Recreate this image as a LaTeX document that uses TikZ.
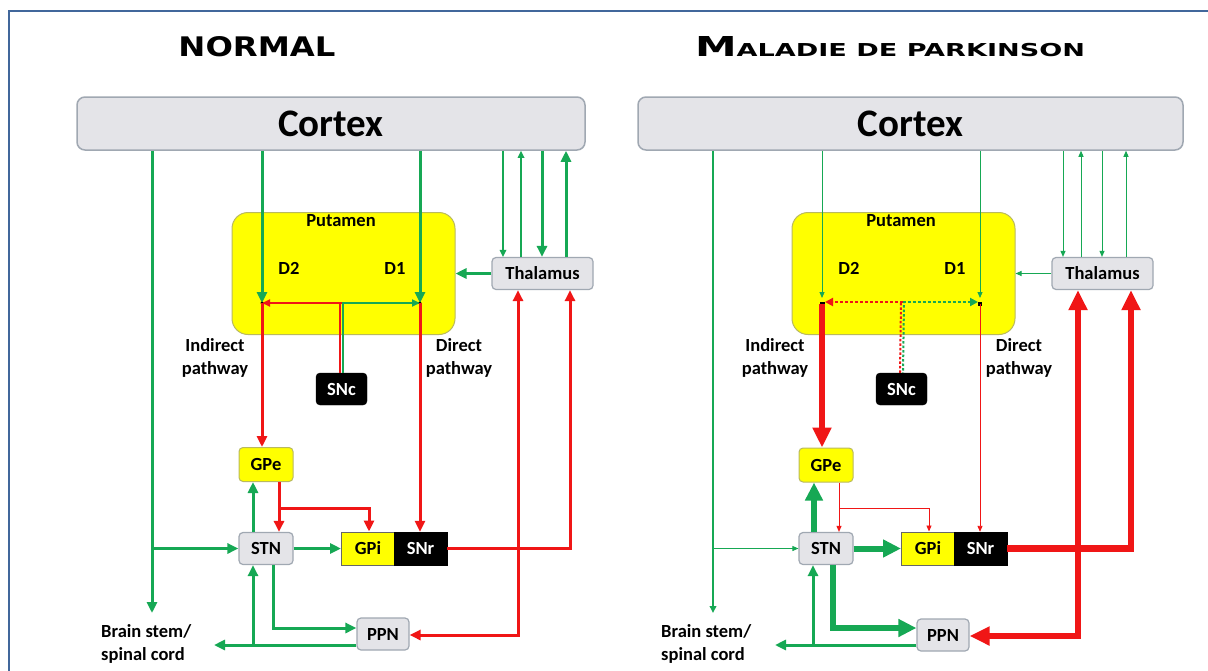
\documentclass[tikz,border=0pt]{standalone}
\usepackage{fontspec}
\usepackage{graphicx}
\setmainfont{Carlito}
\newfontfamily\ttlfont{DejaVu Sans}
\usetikzlibrary{arrows.meta}
\definecolor{grn}{RGB}{22,168,84}
\definecolor{rd}{RGB}{240,22,22}
\definecolor{ylw}{RGB}{255,255,0}
\definecolor{boxgray}{RGB}{228,228,232}
\definecolor{boxedge}{RGB}{160,168,178}
\definecolor{frm}{RGB}{65,103,155}
\definecolor{yedge}{RGB}{185,185,95}
\tikzset{
  lbl/.style={font=\fontsize{18.5}{23}\selectfont\bfseries, inner sep=0pt},
  graybox/.style={lbl, draw=boxedge, fill=boxgray, line width=1.2pt, rounded corners=4pt},
  ybox/.style={lbl, draw=yedge, fill=ylw, line width=1pt},
  blkbox/.style={lbl, draw=black, fill=black, text=white},
  cortexbox/.style={draw=boxedge, fill=boxgray, line width=1.5pt, rounded corners=8pt, minimum height=53pt, inner sep=0pt, font=\fontsize{39}{42}\selectfont\bfseries},
  putbox/.style={draw=yedge, fill=ylw, line width=1pt, rounded corners=16pt, minimum width=223pt, minimum height=122pt},
  gT/.style={draw=grn, line width=0.9pt, -{Triangle[length=6pt,width=5pt]}},
  gS/.style={draw=grn, line width=1.6pt, -{Triangle[length=7pt,width=6.5pt]}},
  gM/.style={draw=grn, line width=3pt, -{Triangle[length=11pt,width=10pt]}},
  gK/.style={draw=grn, line width=6pt, -{Triangle[length=18pt,width=17pt]}},
  rT/.style={draw=rd, line width=0.9pt, -{Triangle[length=6pt,width=5pt]}},
  rS/.style={draw=rd, line width=1.8pt, -{Triangle[length=8pt,width=7pt]}},
  rM/.style={draw=rd, line width=3pt, -{Triangle[length=11pt,width=10pt]}},
  rK/.style={draw=rd, line width=6.5pt, -{Triangle[length=20pt,width=18pt]}},
}
\begin{document}
\begin{tikzpicture}[x=1pt,y=-1pt]
\useasboundingbox (0,0) rectangle (1208,670);
\fill[white] (0,0) rectangle (1208,670);
\draw[frm, line width=2.5pt] (9,672) -- (9,11) -- (1210,11);

% titles
\node[anchor=base, inner sep=0pt] (t1) at (257,56) {\resizebox{157pt}{20pt}{\ttlfont\bfseries NORMAL}};
\node[anchor=base, inner sep=0pt] (t2) at (890,56) {\resizebox{390pt}{20pt}{\ttlfont\bfseries\fontsize{27}{30}\selectfont M\fontsize{17.5}{20}\selectfont ALADIE DE PARKINSON}};

% ================= LEFT PANEL =================
\node[cortexbox, minimum width=508pt] (Lcx) at (331,123.5) {Cortex};
\node[putbox] (Lput) at (343.5,273.5) {};
\node[lbl] (LputT) at (341,221) {Putamen};
\node[lbl] (Ld2) at (289,268) {D2};
\node[lbl] (Ld1) at (395,268) {D1};
\node[graybox, minimum width=101pt, minimum height=32pt] (Lthal) at (542.5,273.5) {Thalamus};
\node[blkbox, rounded corners=4pt, minimum width=51pt, minimum height=32pt] (Lsnc) at (341.5,389) {SNc};
\node[ybox, rounded corners=4pt, minimum width=54pt, minimum height=34pt] (Lgpe) at (266,464.5) {GPe};
\node[graybox, minimum width=54pt, minimum height=32pt] (Lstn) at (266,548.5) {STN};
\node[ybox, draw=black!60, minimum width=53pt, minimum height=33pt] (Lgpi) at (368,548.5) {GPi};
\node[blkbox, minimum width=53pt, minimum height=33pt] (Lsnr) at (420.5,548.5) {SNr};
\node[graybox, minimum width=52pt, minimum height=32pt] (Lppn) at (383,634) {PPN};
\node[lbl, align=center] (Lind) at (215,358) {Indirect\\pathway};
\node[lbl, align=center] (Ldir) at (459,358) {Direct\\pathway};
\node[lbl, align=left, anchor=west] (Lbs) at (101,644) {Brain stem/\\spinal cord};
\coordinate (Ld2p) at (262,303);
\coordinate (Ld1p) at (420,303);
\coordinate (Ljs) at (341.5,303);
\coordinate (LjA) at (152,548.5);
\coordinate (Lbsdown) at (152,613);
\coordinate (Ljg) at (279,508);
\coordinate (Ljr) at (518,548.5);
\coordinate (Lbsin) at (214,645);
\coordinate (Lju) at (253,645);

\draw[gM] (152,0 |- Lcx.south) -- (Lbsdown);
\draw[gM] (LjA) -- (Lstn.west);
\draw[gM] (262,0 |- Lcx.south) -- (Ld2p);
\draw[gM] (420,0 |- Lcx.south) -- (Ld1p);
\draw[gS] (503,0 |- Lcx.south) -- (503,0 |- Lthal.north);
\draw[gS] (521,0 |- Lthal.north) -- (521,0 |- Lcx.south);
\draw[gM] (542,0 |- Lcx.south) -- (542,0 |- Lthal.north);
\draw[gM] (566,0 |- Lthal.north) -- (566,0 |- Lcx.south);
\draw[gM] (Lthal.west) -- (Lput.east);
\draw[rd, line width=1.6pt] ([xshift=-1.5pt]Lsnc.north) -- ([xshift=-1.5pt]Ljs);
\draw[grn, line width=1.6pt] ([xshift=1.5pt]Lsnc.north) -- ([xshift=1.5pt]Ljs);
\draw[rS] (Ljs) -- (Ld2p);
\draw[gS, line width=1.8pt, -{Triangle[length=8pt,width=7pt]}] (Ljs) -- (Ld1p);
\fill (Ld2p) circle (1.6);
\fill (Ld1p) circle (1.6);
\draw[rM] (Ld2p) -- (262,0 |- Lgpe.north);
\draw[rM] (Ld1p) -- (420,0 |- Lsnr.north);
\draw[rM] (279,0 |- Lgpe.south) -- (279,0 |- Lstn.north);
\draw[rM] (Ljg) -| (369,0 |- Lgpi.north);
\draw[gM] (253,0 |- Lstn.north) -- (253,0 |- Lgpe.south);
\draw[gM] (Lstn.east) -- (Lgpi.west);
\draw[rM] (Lsnr.east) -| (570,0 |- Lthal.south);
\draw[rM] (Ljr) -- (518,0 |- Lthal.south);
\draw[rM] (Ljr) |- (Lppn.east |- 0,635);
\draw[gM] (273,0 |- Lstn.south) |- (Lppn.west |- 0,628);
\draw[gM] (Lppn.west |- Lbsin) -- (Lbsin);
\draw[gM] (Lju) -- (253,0 |- Lstn.south);

% ================= RIGHT PANEL =================
\begin{scope}[xshift=560pt]
\node[cortexbox, minimum width=545pt] (Rcx) at (350.5,123.5) {Cortex};
\node[putbox] (Rput) at (343.5,273.5) {};
\node[lbl] (RputT) at (341,221) {Putamen};
\node[lbl] (Rd2) at (289,268) {D2};
\node[lbl] (Rd1) at (395,268) {D1};
\node[graybox, minimum width=101pt, minimum height=32pt] (Rthal) at (542.5,273.5) {Thalamus};
\node[blkbox, rounded corners=4pt, minimum width=51pt, minimum height=32pt] (Rsnc) at (341.5,389) {SNc};
\node[ybox, rounded corners=4pt, minimum width=54pt, minimum height=34pt] (Rgpe) at (266,465) {GPe};
\node[graybox, minimum width=54pt, minimum height=32pt] (Rstn) at (266,548.5) {STN};
\node[ybox, draw=black!60, minimum width=53pt, minimum height=33pt] (Rgpi) at (368,548.5) {GPi};
\node[blkbox, minimum width=53pt, minimum height=33pt] (Rsnr) at (420.5,548.5) {SNr};
\node[graybox, minimum width=52pt, minimum height=32pt] (Rppn) at (383,635) {PPN};
\node[lbl, align=center] (Rind) at (215,358) {Indirect\\pathway};
\node[lbl, align=center] (Rdir) at (459,358) {Direct\\pathway};
\node[lbl, align=left, anchor=west] (Rbs) at (101,644) {Brain stem/\\spinal cord};
\coordinate (Rd2p) at (262,304);
\coordinate (Rd1p) at (420,304);
\coordinate (Rjs) at (342.5,302);
\coordinate (RjA) at (153,548.5);
\coordinate (Rbsdown) at (153,613);
\coordinate (Rjg) at (279,508);
\coordinate (Rjr) at (518,548.5);
\coordinate (Rbsin) at (215,645);
\coordinate (Rju) at (253,645);
\coordinate (Rd2t) at (262,298);
\coordinate (Rd1t) at (420,298);
\coordinate (Rd2s) at (265,302);
\coordinate (Rd1s) at (418,302);

\draw[gS, line width=2pt] (153,0 |- Rcx.south) -- (Rbsdown);
\draw[gT] (RjA) -- (Rstn.west);
\draw[gT] (262,0 |- Rcx.south) -- (Rd2t);
\draw[gT] (420,0 |- Rcx.south) -- (Rd1t);
\draw[gT] (503,0 |- Rcx.south) -- (503,0 |- Rthal.north);
\draw[gT] (521,0 |- Rthal.north) -- (521,0 |- Rcx.south);
\draw[gT] (542,0 |- Rcx.south) -- (542,0 |- Rthal.north);
\draw[gT] (566,0 |- Rthal.north) -- (566,0 |- Rcx.south);
\draw[gT] (Rthal.west) -- (Rput.east);
\draw[rd, line width=2pt, dash pattern=on 2.5pt off 2pt] ([xshift=-1.5pt]Rsnc.north) -- ([xshift=-1.5pt]Rjs);
\draw[grn, line width=2pt, dash pattern=on 2.5pt off 2pt, dash phase=2.2pt] ([xshift=1.5pt]Rsnc.north) -- ([xshift=1.5pt]Rjs);
\draw[rd, line width=2.4pt, dash pattern=on 3pt off 2pt, -{Triangle[length=8pt,width=8pt]}] (Rjs) -- (Rd2s);
\draw[grn, line width=2.4pt, dash pattern=on 3pt off 2pt, -{Triangle[length=8pt,width=8pt]}] (Rjs) -- (Rd1s);
\fill (Rd2p) ++(-2.5,-2.5) rectangle ++(5,5);
\fill (Rd1p) ++(-2,-2) rectangle ++(4,4);
\draw[rK] (Rd2p) -- (262,0 |- Rgpe.north);
\draw[rT] (Rd1p) -- (420,0 |- Rsnr.north);
\draw[rT] (279,0 |- Rgpe.south) -- (279,0 |- Rstn.north);
\draw[rT] (Rjg) -| (369,0 |- Rgpi.north);
\draw[gK] (254,0 |- Rstn.north) -- (254,0 |- Rgpe.south);
\draw[gK] (Rstn.east) -- (Rgpi.west);
\draw[rK] (Rsnr.east) -| (571,0 |- Rthal.south);
\draw[rK] (Rjr) -- (518,0 |- Rthal.south);
\draw[rK] (Rjr) |- (Rppn.east |- 0,636);
\draw[gK] (273,0 |- Rstn.south) |- (Rppn.west |- 0,628);
\draw[gM] (Rppn.west |- Rbsin) -- (Rbsin);
\draw[gM] (Rju) -- (253,0 |- Rstn.south);
\end{scope}
\end{tikzpicture}
\end{document}
